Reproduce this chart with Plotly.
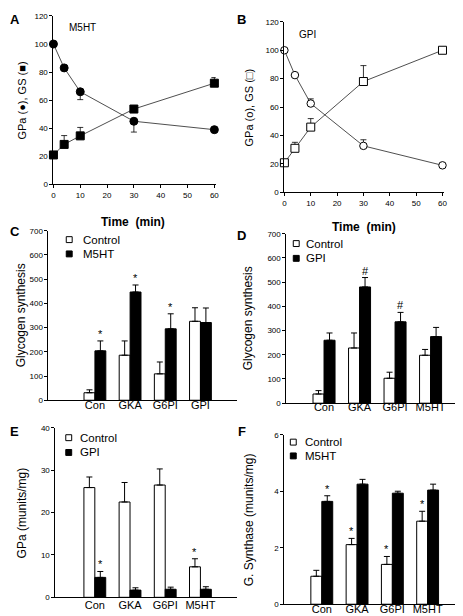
import plotly.graph_objects as go

W, H = 463, 616
FONT = "Liberation Sans, Arial, Helvetica, sans-serif"

# ---------------- data ----------------
time_min = [0, 4, 10, 30, 60]
a_gpa = [100, 83, 66, 45, 39]
a_gpa_err = [0, 0, 5.6, 7.7, 0]      # drawn downward
a_gs = [21, 28.5, 34.6, 53.7, 72.1]
a_gs_err = [0, 6.3, 6.0, 0, 4.0]
b_gpa = [100, 82.5, 62.5, 32.7, 19]
b_gpa_err = [0, 0, 3.3, 4.3, 0]
b_gs = [20.8, 31, 45.9, 78, 100]
b_gs_err = [0, 4.2, 6.0, 11.2, 0]
no_err = [0, 0, 0, 0, 0]

cats_c = ["Con", "GKA", "G6PI", "GPI"]
c_control = [31, 186, 109, 326]
c_control_err = [12, 59, 49, 56]
c_control_sig = ["", "", "", ""]
c_m5ht = [204, 447, 295, 321]
c_m5ht_err = [41, 29, 62, 60]
c_m5ht_sig = ["*", "*", "*", ""]

cats_d = ["Con", "GKA", "G6PI", "M5HT"]
d_control = [38, 228, 103, 198]
d_control_err = [14, 62, 25, 24]
d_control_sig = ["", "", "", ""]
d_gpi = [260, 480, 336, 275]
d_gpi_err = [30, 39, 39, 38]
d_gpi_sig = ["", "#", "#", ""]

cats_e = ["Con", "GKA", "G6PI", "M5HT"]
e_control = [25.9, 22.5, 26.5, 7.2]
e_control_err = [2.5, 4.6, 3.8, 1.9]
e_control_sig = ["", "", "", "*"]
e_gpi = [4.7, 1.7, 1.9, 1.9]
e_gpi_err = [1.4, 0.55, 0.5, 0.6]
e_gpi_sig = ["*", "", "", ""]

cats_f = ["Con", "GKA", "G6PI", "M5HT"]
f_control = [0.99, 2.11, 1.41, 2.94]
f_control_err = [0.21, 0.22, 0.28, 0.35]
f_control_sig = ["", "*", "*", "*"]
f_m5ht = [3.64, 4.25, 3.93, 4.04]
f_m5ht_err = [0.2, 0.17, 0.07, 0.21]
f_m5ht_sig = ["*", "", "", ""]


def px(p):
    return p / W


def py(p):
    return 1 - p / H


fig = go.Figure()
layout = dict(
    width=W, height=H,
    margin=dict(l=0, r=0, t=0, b=0),
    paper_bgcolor="white", plot_bgcolor="white",
    font=dict(family=FONT, color="black"),
    barmode="group", bargap=0.38, bargroupgap=0,
    showlegend=False,
)

# panel geometry (pixels): x0, x1, y_bottom, y_top
panels = {
    "": dict(x=(44, 208.4), y=(175, 4), xr=[0, 60.5], yr=[0, 120], dt=20, cat=False),
    "2": dict(x=(278, 439.5), y=(183, 10), xr=[0, 60.5], yr=[0, 120], dt=20, cat=False),
    "3": dict(x=(39, 230), y=(394, 222), xr=[-1.32, 4.04], yr=[0, 700], dt=100, cat=True, st=-5),
    "4": dict(x=(280, 461), y=(397, 225), xr=[-1.06, 3.97], yr=[0, 700], dt=100, cat=True, st=-6),
    "5": dict(x=(46, 230), y=(594, 422), xr=[-1.12, 4.04], yr=[0, 40], dt=10, cat=True, st=-3),
    "6": dict(x=(278, 461), y=(601, 429), xr=[-1.06, 4.06], yr=[0, 6], dt=2, cat=True, st=-5),
}
for k, p in panels.items():
    xa = dict(domain=[px(p["x"][0]), px(p["x"][1])], range=p["xr"], anchor="y" + k,
              showline=True, linecolor="black", linewidth=1, showgrid=False, zeroline=False,
              fixedrange=True)
    if p["cat"]:
        xa.update(type="category", ticks="", tickfont=dict(size=11), ticklabelstandoff=p["st"])
    else:
        xa.update(ticks="outside", ticklen=3, tickwidth=1, tickcolor="black",
                  tickfont=dict(size=8), dtick=10, tick0=0)
    ya = dict(domain=[py(p["y"][0]), py(p["y"][1])], range=p["yr"], anchor="x" + k,
              showline=True, linecolor="black", linewidth=1, showgrid=False, zeroline=False,
              ticks="outside", ticklen=3, tickwidth=1, tickcolor="black",
              tickfont=dict(size=8), dtick=p["dt"], tick0=0, fixedrange=True)
    layout["xaxis" + k] = xa
    layout["yaxis" + k] = ya


def line_trace(x, y, err_up, err_down, symbol, fill, size, ax, name):
    return go.Scatter(
        x=x, y=y, mode="lines+markers", name=name, cliponaxis=False,
        xaxis="x" + ax, yaxis="y" + ax,
        line=dict(color="#222222", width=0.8),
        marker=dict(symbol=symbol, size=size, color=fill, line=dict(color="black", width=1)),
        error_y=dict(type="data", symmetric=False, array=err_up, arrayminus=err_down,
                     color="black", thickness=0.8, width=3),
    )


# Panel A (M5HT) – filled markers
fig.add_trace(line_trace(time_min, a_gpa, no_err, a_gpa_err, "circle", "black", 8, "", "GPa"))
fig.add_trace(line_trace(time_min, a_gs, a_gs_err, no_err, "square", "black", 8, "", "GS"))
# Panel B (GPI) – open markers
fig.add_trace(line_trace(time_min, b_gpa, b_gpa_err, no_err, "circle", "white", 7.5, "2", "GPa"))
fig.add_trace(line_trace(time_min, b_gs, b_gs_err, no_err, "square", "white", 8, "2", "GS"))

annotations = []
shapes = []

# legend key placement (pixels): symbol centre x, text start x, row-1 y, row-2 y
legend_keys = {
    "3": (60, 72, 231, 245.5),
    "4": (290, 298, 235, 250),
    "5": (59.5, 69, 432, 447),
    "6": (287, 297, 436.5, 450.5),
}


def bar_pair(cats, v1, e1, s1, v2, e2, s2, name2, ax):
    for vals, errs, sigs, fill, shift, nm in ((v1, e1, s1, "white", -1, "Control"),
                                              (v2, e2, s2, "black", 1, name2)):
        fig.add_trace(go.Bar(
            x=cats, y=vals, name=nm, xaxis="x" + ax, yaxis="y" + ax,
            marker=dict(color=fill, line=dict(color="black", width=1)),
            error_y=dict(type="data", symmetric=False, array=errs, arrayminus=[0] * len(errs),
                         color="black", thickness=1, width=3),
        ))
        for c, v, e, s in zip(cats, vals, errs, sigs):
            if s:
                annotations.append(dict(
                    x=c, y=v + e, xref="x" + ax, yref="y" + ax, xshift=5.5 * shift, yshift=-1,
                    yanchor="bottom", showarrow=False, text=s, font=dict(size=11)))
    # legend keys
    sx, tx, r1, r2 = legend_keys[ax]
    for nm, fill, ry in (("Control", "white", r1), (name2, "black", r2)):
        shapes.append(dict(type="rect", xref="paper", yref="paper",
                           x0=px(sx - 3), x1=px(sx + 3), y0=py(ry + 3), y1=py(ry - 3),
                           fillcolor=fill, line=dict(color="black", width=1)))
        annotations.append(dict(x=px(tx), y=py(ry), xref="paper", yref="paper",
                                xanchor="left", yanchor="middle", showarrow=False,
                                text=nm, font=dict(size=11.5)))


bar_pair(cats_c, c_control, c_control_err, c_control_sig, c_m5ht, c_m5ht_err, c_m5ht_sig, "M5HT", "3")
bar_pair(cats_d, d_control, d_control_err, d_control_sig, d_gpi, d_gpi_err, d_gpi_sig, "GPI", "4")
bar_pair(cats_e, e_control, e_control_err, e_control_sig, e_gpi, e_gpi_err, e_gpi_sig, "GPI", "5")
bar_pair(cats_f, f_control, f_control_err, f_control_sig, f_m5ht, f_m5ht_err, f_m5ht_sig, "M5HT", "6")


def text(x, y, s, size, bold=False, angle=0):
    annotations.append(dict(
        x=px(x), y=py(y), xref="paper", yref="paper", xanchor="center", yanchor="middle",
        showarrow=False, textangle=angle, text=("<b>%s</b>" % s) if bold else s,
        font=dict(size=size)))


# panel letters
for lab, x, y in (("A", 5, 8), ("B", 235, 8), ("C", 5, 223), ("D", 235, 227), ("E", 5, 426), ("F", 235, 426)):
    text(x, y, lab, 13, bold=True)

# inner labels
text(73, 16, "M5HT", 10)
text(301, 23, "GPI", 10)

# x titles
text(125, 213, "Time \u00a0(min)", 12, bold=True)
text(359, 218, "Time \u00a0(min)", 12, bold=True)

# y titles
text(12, 90, "GPa (\u25cf), GS (\u25a0)", 11, angle=-90)
text(242, 97, "GPa (o), GS (\u25a1)", 11, angle=-90)
text(11, 308, "Glycogen synthesis", 12, angle=-90)
text(242, 311, "Glycogen synthesis", 12, angle=-90)
text(12, 508, "GPa (munits/mg)", 12, angle=-90)
text(243, 515, "G. Synthase (munits/mg)", 12, angle=-90)

layout["annotations"] = annotations
layout["shapes"] = shapes
fig.update_layout(**layout)
fig.write_html("out.html")
